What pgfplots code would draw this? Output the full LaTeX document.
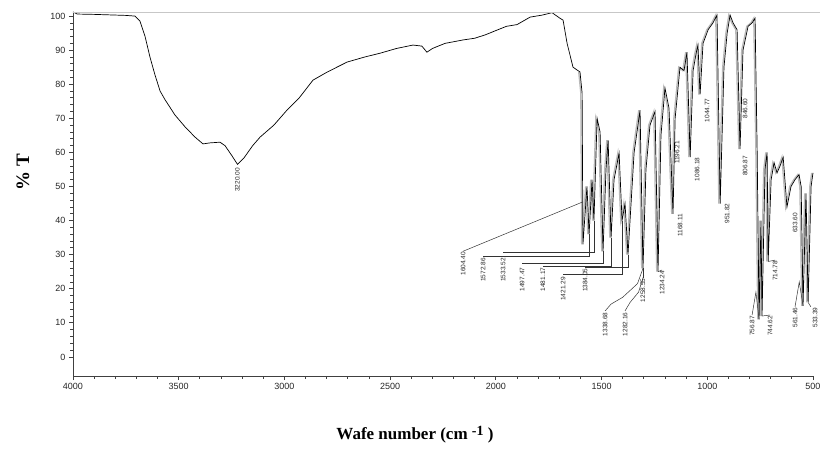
\documentclass[border=0pt]{standalone}
\usepackage{pgfplots}
\pgfplotsset{compat=1.18}
\usepackage{pgfplotstable}
\usepackage{fontspec}
\setmainfont{Liberation Serif}
\newfontfamily\lsans{Liberation Sans}
\pgfplotstableread{
wn T
4000 101.2
3980 100.6
3900 100.5
3850 100.4
3800 100.3
3750 100.2
3707 100.0
3683 98.5
3659 94
3636 88
3612 82.7
3588 78
3565 75.5
3518 71
3470 67.5
3423 64.5
3385 62.5
3352 62.8
3305 63
3281 62
3248 59
3222 56.5
3190 58.5
3150 62
3115 64.5
3050 68
2988 72.4
2930 76
2865 81.2
2800 83.5
2704 86.5
2620 88
2548 89.1
2470 90.5
2392 91.5
2350 91.2
2326 89.4
2300 90.5
2240 92
2155 93
2100 93.5
2050 94.5
1994 95.9
1950 97
1900 97.5
1838 99.7
1780 100.3
1734 101
1700 99.5
1682 98.8
1663 92
1635 85
1602 83.6
1592 77.4
1588 33
1569 50
1559 36
1545 52
1536 40
1521 70
1507 66
1493 31
1479 55
1469 63.6
1455 35
1441 52
1417 59.8
1403 40
1389 45
1375 30
1346 60
1318 72.4
1304 26
1290 55
1271 68
1247 72
1233 25
1219 65
1200 78.9
1181 73
1162 42
1152 70
1129 85
1110 84
1096 89.4
1081 58.6
1067 84
1053 89
1044 91.5
1034 77
1020 92
996 96
973 98
954 100.3
939 45
921 85
906 95
892 100.3
878 98
859 96
845 61
831 90
807 97
788 98
774 99.4
764 60
755 11
746 40
741 12
727 55
717 60
712 28
698 52
684 57
670 54
656 56
641 58.6
623 44
604 50
585 52
566 53.5
556 50
547 15
533 48
523 16
509 50
500 54
}\spectrum
\begin{document}
\begin{tikzpicture}[
  lbl/.style={font=\lsans\fontsize{6.5}{6.5}\selectfont, rotate=90, anchor=east, inner sep=0.6pt, text=black!85},
  ld/.style={black!80, line width=0.5pt}]
\useasboundingbox (-73pt,-72pt) rectangle (747pt,376pt);
\begin{axis}[
  scale only axis, width=740pt, height=364pt,
  at={(0pt,0pt)}, anchor=south west,
  x dir=reverse, xmin=500, xmax=4000, ymin=-5.6, ymax=101.2,
  axis x line=bottom, axis y line=left,
  axis line style={-, black!75, line width=0.8pt},
  xtick={500,1000,...,4000}, minor x tick num=4,
  ytick={0,10,...,100}, minor y tick num=4,
  tick align=outside, major tick length=4pt, minor tick length=2.5pt,
  every tick/.style={black!75, line width=0.8pt},
  tick label style={font=\lsans\fontsize{9}{9}\selectfont, text=black!85},
  /pgf/number format/assume math mode=true,
  /pgf/number format/1000 sep={},
  clip=false,
]
\addplot[gray!55, line width=1.3pt, restrict x to domain=500:1610, xshift=-1.3pt] table[x=wn, y=T] {\spectrum};
\addplot[black, line width=0.7pt] table[x=wn, y=T] {\spectrum};
% leader lines
\draw[ld] (2155,31) -- (1588,45.5);
\draw[ld] (2060,29.6) -- (1559,29.6) -- (1559,36);
\draw[ld] (1966,30.6) -- (1536,30.6) -- (1536,40);
\draw[ld] (1876,27.4) -- (1493,27.4) -- (1493,31);
\draw[ld] (1777,26.7) -- (1455,26.7) -- (1455,35);
\draw[ld] (1682,24.2) -- (1403,24.2) -- (1403,40);
\draw[ld] (1578,26.3) -- (1375,26.3) -- (1375,30);
\draw[ld] (1483,13.5) -- (1455,15.5) -- (1400,17.5) -- (1330,21.5) -- (1304,26);
\draw[ld] (1389,13.5) -- (1365,16) -- (1325,19) -- (1300,24);
\draw[ld] (1304,26) -- (1304,23.2);
\draw[ld] (1233,25) -- (1214,25.5);
\draw[ld] (755,11) -- (770,19) -- (788,12.3);
\draw[ld] (741,12) -- (703,12.3);
\draw[ld] (712,28) -- (679,28.4);
\draw[ld] (547,15) -- (565,22) -- (585,14.7);
\draw[ld] (523,16) -- (510,14.7);
% peak labels
\node[lbl] at (3222,55.6) {3220.00};
\node[lbl] at (2155,31) {1604.40};
\node[lbl] at (2060,29.2) {1572.86};
\node[lbl] at (1966,29.2) {1533.52};
\node[lbl] at (1876,26.4) {1497.47};
\node[lbl] at (1777,26.4) {1481.17};
\node[lbl] at (1682,23.6) {1421.29};
\node[lbl] at (1578,26.2) {1384.05};
\node[lbl] at (1483,13.2) {1338.68};
\node[lbl] at (1389,13.2) {1282.16};
\node[lbl] at (1304,23.2) {1258.55};
\node[lbl] at (1214,25.5) {1234.24};
\node[lbl] at (1143,63.6) {1196.21};
\node[lbl] at (1128,42.2) {1168.11};
\node[lbl] at (1048,58.7) {1086.18};
\node[lbl] at (1001,76) {1044.77};
\node[lbl] at (906,45.2) {951.82};
\node[lbl] at (821,76) {846.60};
\node[lbl] at (821,59.2) {806.87};
\node[lbl] at (788,12.3) {756.87};
\node[lbl] at (703,12.3) {744.62};
\node[lbl] at (679,28.4) {714.78};
\node[lbl] at (585,42.5) {633.60};
\node[lbl] at (585,14.7) {561.46};
\node[lbl] at (490,14.7) {533.39};
\end{axis}
\draw[black!22, line width=0.6pt] (0pt,364pt) -- (747pt,364pt);
\node[rotate=90, font=\bfseries\fontsize{19}{19}\selectfont] at (-50pt,204pt) {\% T};
\node[font=\bfseries\fontsize{17}{17}\selectfont] at (342pt,-59pt) {Wafe number (cm \raisebox{0.55ex}{\fontsize{14}{14}\selectfont -1} )};
\end{tikzpicture}
\end{document}
